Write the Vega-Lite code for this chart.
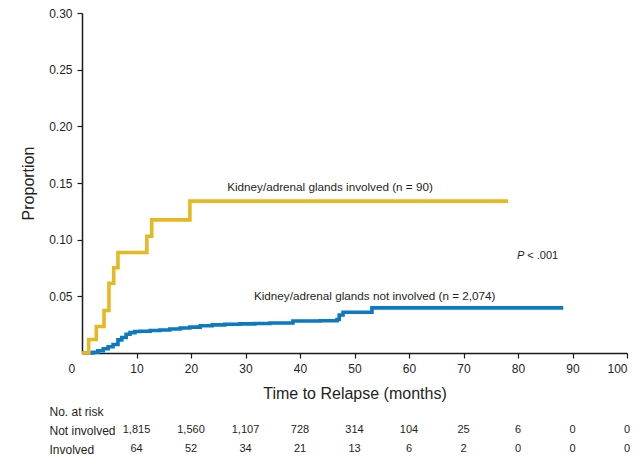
{
  "$schema": "https://vega.github.io/schema/vega-lite/v6.json",
  "autosize": "none",
  "width": 545,
  "height": 340,
  "padding": {"left": 82, "top": 13, "right": 10, "bottom": 107},
  "background": "white",
  "config": {
    "view": {"stroke": null},
    "font": "Liberation Sans",
    "axis": {
      "grid": false,
      "domainColor": "#1a1a1a",
      "domainWidth": 1.5,
      "tickColor": "#1a1a1a",
      "tickWidth": 1.2,
      "tickSize": 5,
      "labelColor": "#231F20",
      "labelFontSize": 12,
      "titleColor": "#231F20",
      "titleFontSize": 16,
      "titleFontWeight": "normal"
    }
  },
  "datasets": {
    "curves": [
      {"group": "Not involved", "month": 0, "proportion": 0},
      {"group": "Not involved", "month": 2.0, "proportion": 0.0007},
      {"group": "Not involved", "month": 2.9, "proportion": 0.002},
      {"group": "Not involved", "month": 3.9, "proportion": 0.0037},
      {"group": "Not involved", "month": 4.8, "proportion": 0.0055},
      {"group": "Not involved", "month": 5.7, "proportion": 0.0075},
      {"group": "Not involved", "month": 6.6, "proportion": 0.0116},
      {"group": "Not involved", "month": 7.3, "proportion": 0.0137},
      {"group": "Not involved", "month": 8.1, "proportion": 0.0166},
      {"group": "Not involved", "month": 8.8, "proportion": 0.018},
      {"group": "Not involved", "month": 9.7, "proportion": 0.019},
      {"group": "Not involved", "month": 10.6, "proportion": 0.0192},
      {"group": "Not involved", "month": 12.5, "proportion": 0.0199},
      {"group": "Not involved", "month": 14.3, "proportion": 0.0203},
      {"group": "Not involved", "month": 16.1, "proportion": 0.0212},
      {"group": "Not involved", "month": 18.0, "proportion": 0.0221},
      {"group": "Not involved", "month": 19.8, "proportion": 0.0228},
      {"group": "Not involved", "month": 21.7, "proportion": 0.024},
      {"group": "Not involved", "month": 23.9, "proportion": 0.0248},
      {"group": "Not involved", "month": 26.2, "proportion": 0.0254},
      {"group": "Not involved", "month": 29.0, "proportion": 0.0257},
      {"group": "Not involved", "month": 31.7, "proportion": 0.026},
      {"group": "Not involved", "month": 34.5, "proportion": 0.0265},
      {"group": "Not involved", "month": 38.7, "proportion": 0.0282},
      {"group": "Not involved", "month": 43.7, "proportion": 0.0285},
      {"group": "Not involved", "month": 46.8, "proportion": 0.0295},
      {"group": "Not involved", "month": 47.2, "proportion": 0.0335},
      {"group": "Not involved", "month": 47.9, "proportion": 0.036},
      {"group": "Not involved", "month": 53.2, "proportion": 0.0398},
      {"group": "Not involved", "month": 88.3, "proportion": 0.0398},
      {"group": "Involved", "month": 0, "proportion": 0},
      {"group": "Involved", "month": 1.23, "proportion": 0.0119},
      {"group": "Involved", "month": 2.62, "proportion": 0.0234},
      {"group": "Involved", "month": 4.04, "proportion": 0.0375},
      {"group": "Involved", "month": 4.95, "proportion": 0.0616},
      {"group": "Involved", "month": 5.82, "proportion": 0.0752},
      {"group": "Involved", "month": 6.6, "proportion": 0.0887},
      {"group": "Involved", "month": 11.9, "proportion": 0.103},
      {"group": "Involved", "month": 12.8, "proportion": 0.1175},
      {"group": "Involved", "month": 19.8, "proportion": 0.134},
      {"group": "Involved", "month": 78.2, "proportion": 0.134}
    ],
    "notes": [
      {"note": "Kidney/adrenal glands involved (n = 90)", "month": 45.5, "proportion": 0.1463},
      {"note": "Kidney/adrenal glands not involved (n = 2,074)", "month": 53.7, "proportion": 0.0501}
    ],
    "pvalue": [
      {"note": "P", "month": 79.8, "proportion": 0.086},
      {"note": "< .001", "month": 81.7, "proportion": 0.086}
    ],
    "risk": [
      {"row": "Not involved", "month": 10, "count": "1,815"},
      {"row": "Not involved", "month": 20, "count": "1,560"},
      {"row": "Not involved", "month": 30, "count": "1,107"},
      {"row": "Not involved", "month": 40, "count": "728"},
      {"row": "Not involved", "month": 50, "count": "314"},
      {"row": "Not involved", "month": 60, "count": "104"},
      {"row": "Not involved", "month": 70, "count": "25"},
      {"row": "Not involved", "month": 80, "count": "6"},
      {"row": "Not involved", "month": 90, "count": "0"},
      {"row": "Not involved", "month": 100, "count": "0"},
      {"row": "Involved", "month": 10, "count": "64"},
      {"row": "Involved", "month": 20, "count": "52"},
      {"row": "Involved", "month": 30, "count": "34"},
      {"row": "Involved", "month": 40, "count": "21"},
      {"row": "Involved", "month": 50, "count": "13"},
      {"row": "Involved", "month": 60, "count": "6"},
      {"row": "Involved", "month": 70, "count": "2"},
      {"row": "Involved", "month": 80, "count": "0"},
      {"row": "Involved", "month": 90, "count": "0"},
      {"row": "Involved", "month": 100, "count": "0"}
    ]
  },
  "layer": [
    {
      "layer": [
        {
          "data": {"name": "curves"},
          "mark": {"type": "line", "interpolate": "step-after", "strokeWidth": 3.6, "clip": false},
          "encoding": {
            "x": {
              "field": "month",
              "type": "quantitative",
              "scale": {"domain": [0, 100], "nice": false},
              "axis": {
                "title": "Time to Relapse (months)",
                "values": [0, 10, 20, 30, 40, 50, 60, 70, 80, 90, 100],
                "labelPadding": 5,
                "titlePadding": 11,
                "labelOffset": {"condition": {"test": "datum.value === 0", "value": -14}, "value": 0},
                "tickOpacity": {"condition": {"test": "datum.value === 0", "value": 0}, "value": 1}
              }
            },
            "y": {
              "field": "proportion",
              "type": "quantitative",
              "scale": {"domain": [0, 0.3], "nice": false},
              "axis": {
                "title": "Proportion",
                "values": [0.05, 0.1, 0.15, 0.2, 0.25, 0.3],
                "format": ".2f",
                "labelPadding": 5,
                "titlePadding": 12
              }
            },
            "color": {
              "field": "group",
              "type": "nominal",
              "scale": {"domain": ["Not involved", "Involved"], "range": ["#0B7AC0", "#E8B823"]},
              "legend": null
            }
          }
        },
        {
          "data": {"name": "notes"},
          "mark": {"type": "text", "fontSize": 11.7, "color": "#231F20", "align": "center", "baseline": "middle"},
          "encoding": {
            "x": {"field": "month", "type": "quantitative", "scale": {"domain": [0, 100], "nice": false}},
            "y": {"field": "proportion", "type": "quantitative", "scale": {"domain": [0, 0.3], "nice": false}},
            "text": {"field": "note"}
          }
        },
        {
          "data": {"name": "pvalue"},
          "transform": [{"filter": "datum.note === 'P'"}],
          "mark": {"type": "text", "fontSize": 11, "fontStyle": "italic", "color": "#231F20", "align": "left", "baseline": "middle"},
          "encoding": {
            "x": {"field": "month", "type": "quantitative", "scale": {"domain": [0, 100], "nice": false}},
            "y": {"field": "proportion", "type": "quantitative", "scale": {"domain": [0, 0.3], "nice": false}},
            "text": {"field": "note"}
          }
        },
        {
          "data": {"name": "pvalue"},
          "transform": [{"filter": "datum.note !== 'P'"}],
          "mark": {"type": "text", "fontSize": 11, "color": "#231F20", "align": "left", "baseline": "middle"},
          "encoding": {
            "x": {"field": "month", "type": "quantitative", "scale": {"domain": [0, 100], "nice": false}},
            "y": {"field": "proportion", "type": "quantitative", "scale": {"domain": [0, 0.3], "nice": false}},
            "text": {"field": "note"}
          }
        }
      ]
    },
    {
      "data": {"name": "risk"},
      "mark": {"type": "text", "fontSize": 11, "color": "#231F20", "align": "center", "baseline": "middle"},
      "encoding": {
        "x": {"field": "month", "type": "quantitative", "scale": {"domain": [0, 100], "nice": false}},
        "y": {
          "field": "row",
          "type": "ordinal",
          "scale": {"type": "point", "domain": ["No. at risk", "Not involved", "Involved"], "range": [398, 436], "padding": 0},
          "axis": {
            "orient": "left",
            "title": null,
            "domain": false,
            "ticks": false,
            "tickSize": 0,
            "labelAlign": "left",
            "labelBaseline": "middle",
            "labelPadding": 33,
            "labelFontSize": 12
          }
        },
        "text": {"field": "count"}
      }
    }
  ],
  "resolve": {"scale": {"y": "independent"}, "axis": {"y": "independent"}}
}
